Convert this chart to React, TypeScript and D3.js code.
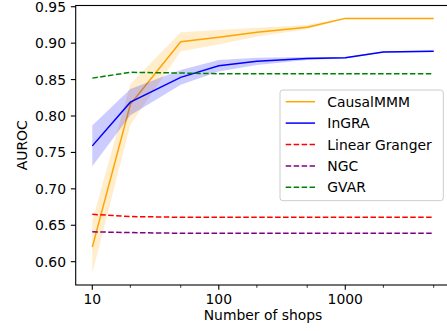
import * as d3 from 'd3';
import { useEffect, useRef } from 'react';

const shops = [10, 20, 50, 100, 200, 500, 1000, 2000, 5000];
const causalMMM = [0.620, 0.816, 0.902, 0.908, 0.915, 0.922, 0.934, 0.934, 0.934];
const causalMMMStd = [0.036, 0.028, 0.013, 0.010, 0.006, 0.003, 0.001, 0.001, 0.001];
const inGRA = [0.759, 0.819, 0.853, 0.869, 0.875, 0.879, 0.880, 0.888, 0.889];
const inGRAStd = [0.028, 0.018, 0.010, 0.008, 0.005, 0.002, 0.001, 0.001, 0.001];
const linearGranger = [0.665, 0.662, 0.661, 0.661, 0.661, 0.661, 0.661, 0.661, 0.661];
const ngc = [0.641, 0.640, 0.639, 0.639, 0.639, 0.639, 0.639, 0.639, 0.639];
const gvar = [0.852, 0.860, 0.859, 0.858, 0.858, 0.858, 0.858, 0.858, 0.858];

const xMajorTicks = [10, 100, 1000];
const xMinorTicks = [20, 50, 200, 500, 2000, 5000];
const yTicks = [0.60, 0.65, 0.70, 0.75, 0.80, 0.85, 0.90, 0.95];

const FONT = 'DejaVu Sans, sans-serif';
const FS = 13.9;

export default function App() {
    const ref = useRef<any>();

    useEffect(() => {
        const width = 447;
        const height = 331;
        const left = 75.7, right = 450.3, top = 5.5, bottom = 285;

        const svg = d3.select<any, any>(ref.current);
        svg.selectAll('*').remove();

        const xScale = d3.scaleLog().domain([Math.pow(10, 0.8688), Math.pow(10, 3.8302)]).range([left, right]);
        const yScale = d3.scaleLinear().domain([0.568, 0.9517]).range([bottom, top]);

        const series = [
            { name: 'CausalMMM', values: causalMMM, std: causalMMMStd, color: 'orange', dash: null },
            { name: 'InGRA', values: inGRA, std: inGRAStd, color: 'blue', dash: null },
            { name: 'Linear Granger', values: linearGranger, std: null, color: 'red', dash: '5.55,2.4' },
            { name: 'NGC', values: ngc, std: null, color: 'purple', dash: '5.55,2.4' },
            { name: 'GVAR', values: gvar, std: null, color: 'green', dash: '5.55,2.4' },
        ];

        const plot = svg.append('g');

        series.forEach((s: any) => {
            const pts = shops.map((n, i) => ({ n, v: s.values[i], sd: s.std ? s.std[i] : 0 }));
            if (s.std) {
                const area = d3.area<any>()
                    .x((d) => xScale(d.n))
                    .y0((d) => yScale(d.v - d.sd))
                    .y1((d) => yScale(d.v + d.sd));
                plot.append('path')
                    .attr('d', area(pts))
                    .attr('fill', s.color)
                    .attr('fill-opacity', 0.2);
            }
            const line = d3.line<any>().x((d) => xScale(d.n)).y((d) => yScale(d.v));
            plot.append('path')
                .attr('d', line(pts))
                .attr('fill', 'none')
                .attr('stroke', s.color)
                .attr('stroke-width', 1.5)
                .attr('stroke-dasharray', s.dash);
        });

        // spines
        svg.append('rect')
            .attr('x', left).attr('y', top)
            .attr('width', right - left).attr('height', bottom - top)
            .attr('fill', 'none').attr('stroke', 'black').attr('stroke-width', 1.1);

        // x ticks
        const xAxis = svg.append('g');
        xMajorTicks.forEach((t) => {
            xAxis.append('line')
                .attr('x1', xScale(t)).attr('x2', xScale(t))
                .attr('y1', bottom).attr('y2', bottom + 4.86)
                .attr('stroke', 'black').attr('stroke-width', 1.1);
            xAxis.append('text')
                .attr('x', xScale(t)).attr('y', bottom + 19)
                .attr('text-anchor', 'middle')
                .attr('font-family', FONT).attr('font-size', FS)
                .text(String(t));
        });
        xMinorTicks.forEach((t) => {
            xAxis.append('line')
                .attr('x1', xScale(t)).attr('x2', xScale(t))
                .attr('y1', bottom).attr('y2', bottom + 2.8)
                .attr('stroke', 'black').attr('stroke-width', 0.8);
        });

        // y ticks
        const yAxis = svg.append('g');
        yTicks.forEach((t) => {
            yAxis.append('line')
                .attr('x1', left - 4.86).attr('x2', left)
                .attr('y1', yScale(t)).attr('y2', yScale(t))
                .attr('stroke', 'black').attr('stroke-width', 1.1);
            yAxis.append('text')
                .attr('x', left - 9.7).attr('y', yScale(t) + 5)
                .attr('text-anchor', 'end')
                .attr('font-family', FONT).attr('font-size', FS)
                .text(d3.format('.2f')(t));
        });

        // axis labels
        svg.append('text')
            .attr('x', (left + right) / 2).attr('y', 320)
            .attr('text-anchor', 'middle')
            .attr('font-family', FONT).attr('font-size', FS)
            .text('Number of shops');
        svg.append('text')
            .attr('transform', `translate(26.5, ${(top + bottom) / 2}) rotate(-90)`)
            .attr('text-anchor', 'middle')
            .attr('font-family', FONT).attr('font-size', FS)
            .text('AUROC');

        // legend
        const legend = svg.append('g');
        legend.append('rect')
            .attr('x', 280).attr('y', 90)
            .attr('width', 163.3).attr('height', 110.7)
            .attr('rx', 2.8)
            .attr('fill', 'white').attr('fill-opacity', 0.8)
            .attr('stroke', '#cccccc').attr('stroke-width', 1);
        series.forEach((s: any, i) => {
            const cy = 101.7 + i * 21.4;
            legend.append('line')
                .attr('x1', 285.7).attr('x2', 315)
                .attr('y1', cy).attr('y2', cy)
                .attr('stroke', s.color).attr('stroke-width', 1.5)
                .attr('stroke-dasharray', s.dash);
            legend.append('text')
                .attr('x', 327.3).attr('y', cy + 5)
                .attr('font-family', FONT).attr('font-size', FS)
                .text(s.name);
        });

        svg.attr('width', width).attr('height', height);
    }, []);

    return (
        <div>
            <svg ref={ref} width={447} height={331} style={{ position: 'absolute', left: 0, top: 0 }}></svg>
        </div>
    );
}
